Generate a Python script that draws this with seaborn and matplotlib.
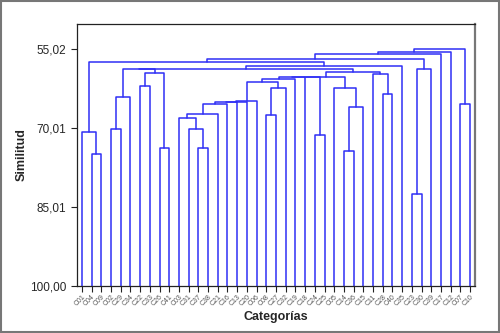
import numpy as np
import pandas as pd
import seaborn as sns
import matplotlib
matplotlib.use("Agg")
from matplotlib import pyplot as plt
from matplotlib.patches import Rectangle

# leaf order along the x axis
leaves = ["C01", "C04", "C09", "C02", "C29", "C34", "C22", "C33", "C26", "C41",
          "C03", "C31", "C37", "C38", "C21", "C16", "C13", "C20", "C06", "C08",
          "C27", "C32", "C19", "C18", "C24", "C25", "C05", "C14", "C36", "C15",
          "C11", "C28", "C40", "C35", "C23", "C30", "C39", "C17", "C12", "C07",
          "C10"]

# merges: left child, right child, similarity (M<n> = result of n-th merge)
merge_left = ["C04", "C01", "C02", "M2", "C22", "C26", "M4", "M3",
              "C37", "C31", "C03", "M10", "M11", "M12", "M13", "M14",
              "C08", "M16", "M15", "M18", "M19", "C24", "M20", "C14",
              "M23", "C05", "M22", "C28", "C11", "M26", "M7", "M30",
              "M1", "C23", "M33", "M32", "M35", "M36", "C07", "M37"]
merge_right = ["C09", "M0", "C29", "C34", "C33", "C41", "M5", "M6",
               "C38", "M8", "M9", "C21", "C16", "C13", "C20", "C06",
               "C27", "C32", "M17", "C19", "C18", "C25", "M21", "C36",
               "C15", "M24", "M25", "C40", "M27", "M28", "M29", "C35",
               "M31", "C30", "C39", "M34", "C17", "C12", "C10", "M38"]
merge_sim = [74.89, 70.72, 70.26, 64.19, 62.04, 73.87, 59.63, 58.88,
             73.75, 70.26, 68.06, 67.30, 65.40, 65.08, 65.02, 64.95,
             67.60, 62.42, 61.28, 60.66, 60.45, 71.44, 60.41, 74.38,
             65.97, 62.48, 60.37, 63.62, 59.75, 59.33, 58.84, 58.25,
             57.53, 82.54, 58.87, 56.97, 56.03, 55.53, 65.46, 55.02]

yticks = [55.02, 70.01, 85.01, 100.00]
ytick_labels = ["55,02", "70,01", "85,01", "100,00"]

sns.set_style("white")
plt.rcParams["font.family"] = ["Liberation Sans", "DejaVu Sans"]

# node positions: leaves at integer slots, clusters at midpoint of children
pos = {name: (float(i), 100.0) for i, name in enumerate(leaves)}
rows = []
for k, (l, r, s) in enumerate(zip(merge_left, merge_right, merge_sim)):
    xl, yl = pos[l]
    xr, yr = pos[r]
    for px, py in [(xl, yl), (xl, s), (xr, s), (xr, yr)]:
        rows.append({"x": px, "sim": py, "link": k})
    pos[f"M{k}"] = ((xl + xr) / 2, s)
df = pd.DataFrame(rows)

fig = plt.figure(figsize=(5, 3.33), dpi=100)
ax = fig.add_axes([0.154, 0.141, 0.796, 0.787])
sns.lineplot(data=df, x="x", y="sim", units="link", estimator=None, sort=False,
             color="#2f2ff5", lw=1.1, ax=ax)

ax.set_xlim(-0.5, 40.5)
ax.set_ylim(100, 50.3)
ax.set_yticks(yticks)
ax.set_yticklabels(ytick_labels, fontsize=8.5)
ax.set_xticks(range(len(leaves)))
ax.set_xticklabels(leaves, rotation=45, ha="right", fontsize=5, color="#555555",
                   rotation_mode="anchor")
ax.tick_params(axis="both", direction="out", length=4, width=0.8, color="#222222",
               bottom=True, left=True)
ax.tick_params(axis="x", pad=1.5)
ax.set_xlabel("Categorías", fontsize=9, fontweight="bold", labelpad=2.5)
ax.set_ylabel("Similitud", fontsize=9, fontweight="bold", labelpad=1.5)
for side in ["left", "bottom", "top"]:
    ax.spines[side].set_color("#222222")
    ax.spines[side].set_linewidth(0.9)
ax.spines["right"].set_color("#777777")
ax.spines["right"].set_linewidth(1.6)

fig.patches.append(Rectangle((0.002, 0.003), 0.995, 0.994, transform=fig.transFigure,
                             fill=False, edgecolor="#777777", lw=1.5))

fig.savefig("out.png", dpi=100)
